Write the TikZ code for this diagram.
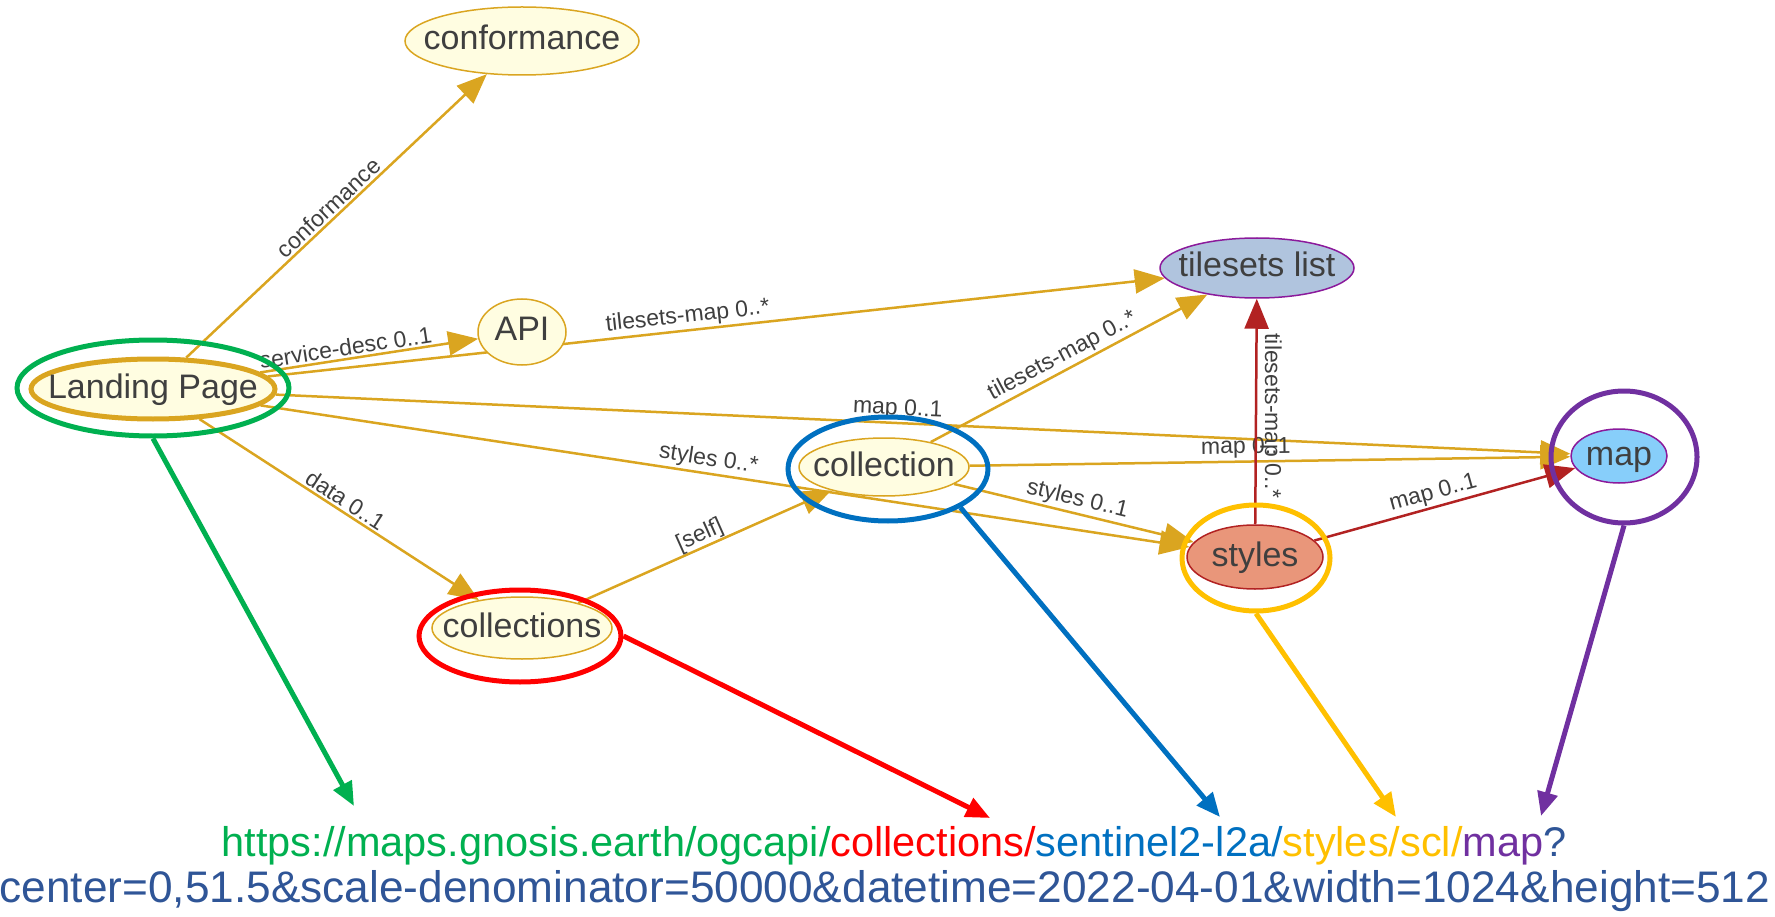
\documentclass[tikz,border=0pt]{standalone}
\usepackage{fontspec}
\setmainfont{Liberation Sans}
\usetikzlibrary{arrows.meta,shapes.geometric,backgrounds}
\definecolor{lkgold}{HTML}{DAA520}
\definecolor{lkred}{HTML}{B22222}
\definecolor{lkcream}{HTML}{FFFDE1}
\definecolor{lksteel}{HTML}{B0C4DE}
\definecolor{lksky}{HTML}{87CEFA}
\definecolor{lksalmon}{HTML}{E9967A}
\definecolor{lkplum}{HTML}{8B1A9B}
\definecolor{lkink}{HTML}{3F3F3F}
\definecolor{mkgreen}{HTML}{00B050}
\definecolor{mkred}{HTML}{FF0000}
\definecolor{mkblue}{HTML}{0070C0}
\definecolor{mkyellow}{HTML}{FFC000}
\definecolor{mkpurple}{HTML}{7030A0}
\definecolor{mknavy}{HTML}{2F5597}
\newcommand{\nodetext}[1]{\makebox[0pt]{#1}}

\begin{document}
\begin{tikzpicture}[x=1pt, y=-1pt,
  res/.style={ellipse, draw=lkgold, line width=1.5pt, fill=lkcream, inner sep=0pt, text=lkink,
    text height=25pt, text depth=7pt, font=\fontsize{34}{38}\selectfont},
  rel/.style={draw=lkgold, line width=2.5pt, -{Triangle[length=30pt,width=24pt]}},
  relred/.style={rel, draw=lkred},
  tag/.style={sloped, above, inner sep=2pt, text=lkink, font=\fontsize{23}{25}\selectfont},
  ring/.style={ellipse, line width=5pt, inner sep=0pt},
  pointer/.style={line width=5pt, -{Triangle[length=24pt,width=20pt]}},
  url/.style={anchor=base, inner sep=0pt}]
  \useasboundingbox (0,0) rectangle (1775,917);

  % resources
  \node[res, minimum width=234pt, minimum height=68pt] (conf) at (522,41) {\nodetext{conformance}};
  \node[res, minimum width=88pt, minimum height=66pt] (api) at (522,332) {\nodetext{API}};
  \node[res, line width=5pt, minimum width=244pt, minimum height=60pt] (lp) at (153,389) {\nodetext{Landing Page}};
  \node[res, minimum width=180pt, minimum height=62pt] (cols) at (522,628) {\nodetext{collections}};
  \node[res, minimum width=170pt, minimum height=58pt] (col) at (884,467) {\nodetext{collection}};
  \node[res, fill=lksteel, draw=lkplum, minimum width=194pt, minimum height=60pt] (tsl) at (1257,268) {\nodetext{tilesets list}};
  \node[res, fill=lksky, draw=lkplum, minimum width=96pt, minimum height=54pt] (map) at (1619,456) {\nodetext{map}};
  \node[res, fill=lksalmon, draw=lkred, minimum width=136pt, minimum height=64pt] (sty) at (1255,557) {\nodetext{styles}};

  % links
  \begin{scope}[on background layer]
    \draw[rel] (lp) -- (conf) node[tag, pos=.5] {conformance};
    \draw[rel] (lp) -- (api) node[tag, pos=.4] {service-desc 0..1};
    \draw[rel] (lp) -- (tsl) node[tag, pos=.47] {tilesets-map 0..*};
    \draw[rel] (lp) -- (map) node[tag, pos=.48] {map 0..1};
    \draw[rel] (lp) -- (sty) node[tag, pos=.48] {styles 0..*};
    \draw[rel] (lp) -- (cols) node[tag, pos=.5] {data 0..1};
    \draw[rel] (cols) -- (col) node[tag, pos=.5, inner sep=0pt] {[self]};
    \draw[rel] (col) -- (tsl) node[tag, pos=.5] {tilesets-map 0..*};
    \draw[rel] (col) -- (map) node[tag, pos=.46] {map 0..1};
    \draw[rel] (col) -- (sty) node[tag, pos=.5] {styles 0..1};
    \draw[relred] (sty) -- (tsl) node[pos=.48, rotate=-90, anchor=south, inner sep=3pt, text=lkink, font=\fontsize{23}{25}\selectfont] {tilesets-map 0..*};
    \draw[relred] (sty) -- (map) node[tag, pos=.47] {map 0..1};
  \end{scope}

  % highlights
  \node[ring, draw=mkgreen, minimum width=272pt, minimum height=96pt] (lpring) at (153,388) {};
  \node[ring, draw=mkred, minimum width=202pt, minimum height=92pt] (colsring) at (520,636) {};
  \node[ring, draw=mkblue, minimum width=200pt, minimum height=104pt] (colring) at (888,469) {};
  \node[ring, draw=mkyellow, minimum width=148pt, minimum height=106pt] (styring) at (1256,558) {};
  \node[ring, draw=mkpurple, minimum width=146pt, minimum height=132pt] (mapring) at (1624,457) {};

  % request
  \node[url, font=\fontsize{41.5}{46}\selectfont] (urlpath) at (894,856) {\textcolor{mkgreen}{https://maps.gnosis.earth/ogcapi/}\textcolor{mkred}{collections/}\textcolor{mkblue}{sentinel2-l2a/}\textcolor{mkyellow}{styles/scl/}\textcolor{mkpurple}{map}\textcolor{mknavy}{?}};
  \node[url, text=mknavy, font=\fontsize{44.2}{48}\selectfont] (urlquery) at (885,902) {center=0,51.5\&scale-denominator=50000\&datetime=2022-04-01\&width=1024\&height=512};

  \coordinate (lptip) at (354,806);
  \coordinate (colstip) at (990,818);
  \coordinate (coltip) at (1220,817);
  \coordinate (stytip) at (1396,817);
  \coordinate (maptip) at (1541,816);
  \draw[pointer, mkgreen] (lpring.south) -- (lptip);
  \draw[pointer, mkred] (colsring.east) -- (colstip);
  \draw[pointer, mkblue] (colring.-28) -- (coltip);
  \draw[pointer, mkyellow] (styring.south) -- (stytip);
  \draw[pointer, mkpurple] (mapring.south) -- (maptip);
\end{tikzpicture}
\end{document}
